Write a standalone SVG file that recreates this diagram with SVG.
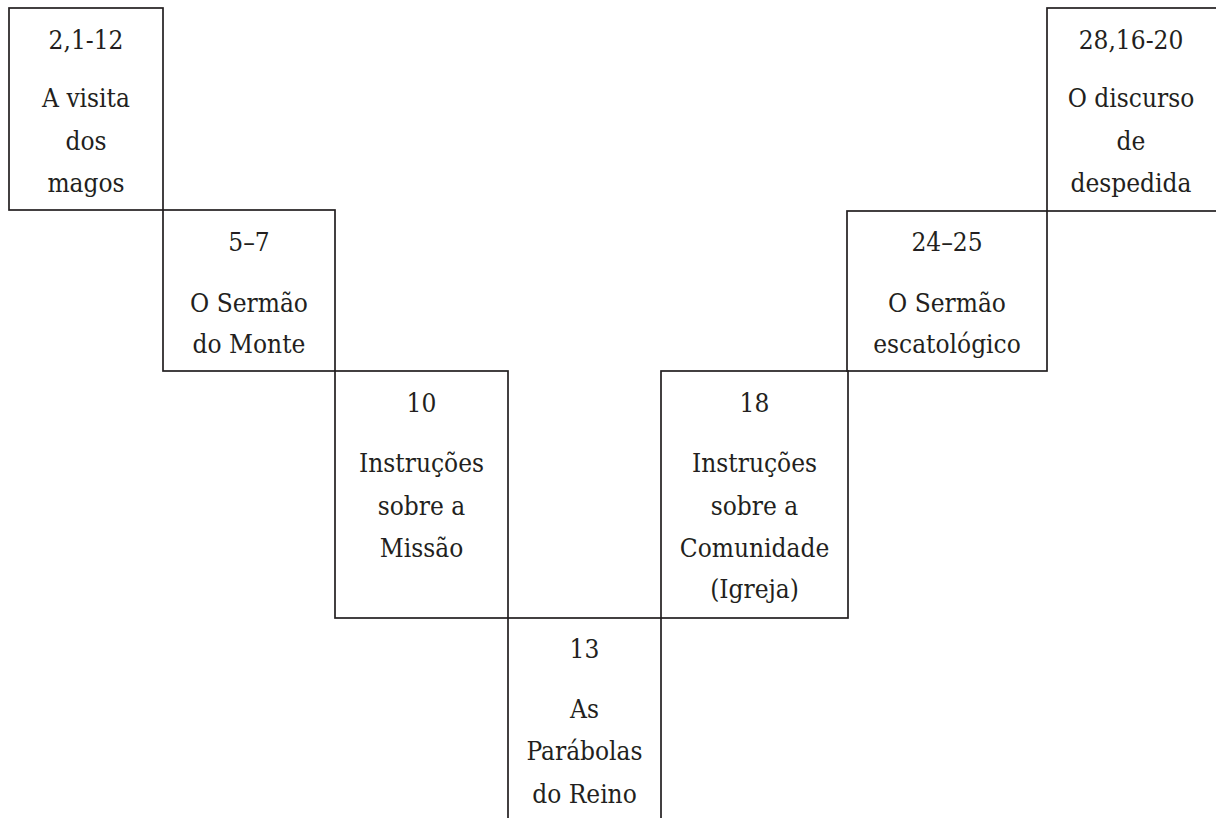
<svg xmlns="http://www.w3.org/2000/svg" width="1216" height="818" viewBox="0 0 1216 818">
<style>
.box{fill:none;stroke:#231f20;stroke-width:1.7}
.t{font-family:'DejaVu Serif Condensed','DejaVu Serif','Liberation Serif',serif;font-stretch:condensed;font-size:26px;fill:#231f20;text-anchor:middle}
</style>
<rect width="1216" height="818" fill="#ffffff"/>
<g id="n1" class="t">
<rect class="box" x="9" y="8" width="154" height="202"/>
<text x="86" y="49">2,1-12</text>
<text x="86" y="107">A visita</text>
<text x="86" y="150">dos</text>
<text x="86" y="192">magos</text>
</g>
<g id="n2" class="t">
<rect class="box" x="163" y="210" width="172" height="161"/>
<text x="249" y="251">5–7</text>
<text x="249" y="312">O Sermão</text>
<text x="249" y="353">do Monte</text>
</g>
<g id="n3" class="t">
<rect class="box" x="335" y="371" width="173" height="247"/>
<text x="421.5" y="412">10</text>
<text x="421.5" y="472">Instruções</text>
<text x="421.5" y="515">sobre a</text>
<text x="421.5" y="557">Missão</text>
</g>
<g id="n4" class="t">
<rect class="box" x="508" y="618" width="153" height="210"/>
<text x="584.5" y="658">13</text>
<text x="584.5" y="718">As</text>
<text x="584.5" y="760">Parábolas</text>
<text x="584.5" y="803">do Reino</text>
</g>
<g id="n5" class="t">
<rect class="box" x="661" y="371" width="187" height="247"/>
<text x="754.5" y="412">18</text>
<text x="754.5" y="472">Instruções</text>
<text x="754.5" y="515">sobre a</text>
<text x="754.5" y="557">Comunidade</text>
<text x="754.5" y="598">(Igreja)</text>
</g>
<g id="n6" class="t">
<rect class="box" x="847" y="211" width="200" height="160"/>
<text x="947" y="251">24–25</text>
<text x="947" y="312">O Sermão</text>
<text x="947" y="353">escatológico</text>
</g>
<g id="n7" class="t">
<rect class="box" x="1047" y="8" width="175" height="203"/>
<text x="1131" y="49">28,16-20</text>
<text x="1131" y="107">O discurso</text>
<text x="1131" y="150">de</text>
<text x="1131" y="192">despedida</text>
</g>
<g id="connectors"></g>
</svg>
